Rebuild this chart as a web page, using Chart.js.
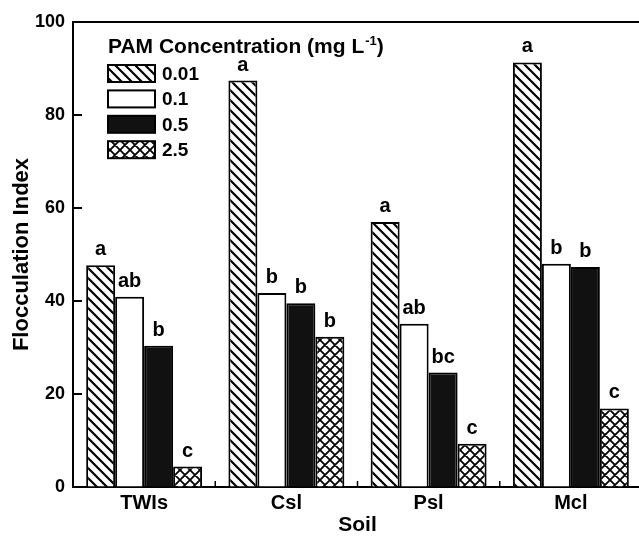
<!DOCTYPE html>
<html>
<head>
<meta charset="utf-8">
<script src="https://cdn.jsdelivr.net/npm/chart.js@4"></script>
<style>
  html, body { margin: 0; padding: 0; background: #fff; overflow: hidden; }
</style>
</head>
<body>
<canvas id="chart" width="646" height="538"></canvas>
<script>
// data
const soils = ['TWIs', 'Csl', 'Psl', 'Mcl'];
const concLabels = ['0.01', '0.1', '0.5', '2.5'];
const fi001 = [47.7, 87.4, 57.0, 91.3];
const fi01 = [40.9, 41.7, 35.1, 48.0];
const fi05 = [30.4, 39.5, 24.6, 47.3];
const fi25 = [4.4, 32.3, 9.3, 16.9];
const letters001 = ['a', 'a', 'a', 'a'];
const letters01 = ['ab', 'b', 'ab', 'b'];
const letters05 = ['b', 'b', 'bc', 'b'];
const letters25 = ['c', 'b', 'c', 'c'];
const yTicks = [0, 20, 40, 60, 80, 100];

const FONT = '"Liberation Sans", Arial, Helvetica, sans-serif';

function makePattern(kind) {
    const size = 10;
    const c = document.createElement('canvas');
    c.width = size;
    c.height = size;
    const g = c.getContext('2d');
    g.fillStyle = '#fff';
    g.fillRect(0, 0, size, size);
    g.strokeStyle = '#000';
    g.lineCap = 'square';
    g.lineWidth = kind === 'cross' ? 1.8 : 2.2;
    g.beginPath();
    // "\" lines
    g.moveTo(-2, -2); g.lineTo(size + 2, size + 2);
    g.moveTo(-2, size - 2); g.lineTo(2, size + 2);
    g.moveTo(size - 2, -2); g.lineTo(size + 2, 2);
    if (kind === 'cross') {
        // "/" lines
        g.moveTo(-2, size + 2); g.lineTo(size + 2, -2);
        g.moveTo(-2, 2); g.lineTo(2, -2);
        g.moveTo(size - 2, size + 2); g.lineTo(size + 2, size - 2);
    }
    g.stroke();
    return g.createPattern(c, 'repeat');
}

const hatch = makePattern('hatch');
const cross = makePattern('cross');

const seriesValues = [fi001, fi01, fi05, fi25];
const seriesLetters = [letters001, letters01, letters05, letters25];
const seriesFill = [hatch, '#ffffff', '#111111', cross];

// small inward tick marks, top frame line
const framePlugin = {
    id: 'frame',
    afterDraw(chart) {
        const ctx = chart.ctx;
        const {left, right, top, bottom} = chart.chartArea;
        const x = chart.scales.x, y = chart.scales.y;
        ctx.save();
        ctx.strokeStyle = '#000';
        ctx.lineWidth = 2;
        ctx.beginPath();
        ctx.moveTo(left - 1, top);
        ctx.lineTo(right + 2, top);
        yTicks.forEach(v => {
            const py = y.getPixelForValue(v);
            ctx.moveTo(left, py);
            ctx.lineTo(left + 9, py);
        });
        ctx.stroke();
        ctx.lineWidth = 1.5;
        ctx.beginPath();
        for (let i = 0; i < soils.length - 1; i++) {
            const px = (x.getPixelForValue(i) + x.getPixelForValue(i + 1)) / 2;
            ctx.moveTo(px, bottom);
            ctx.lineTo(px, bottom - 6);
        }
        ctx.stroke();
        ctx.restore();
    }
};

// significance letters over bars
const lettersPlugin = {
    id: 'letters',
    afterDatasetsDraw(chart) {
        const ctx = chart.ctx;
        ctx.save();
        ctx.fillStyle = '#000';
        ctx.font = 'bold 20px ' + FONT;
        ctx.textAlign = 'center';
        ctx.textBaseline = 'alphabetic';
        chart.data.datasets.forEach((ds, i) => {
            chart.getDatasetMeta(i).data.forEach((el, j) => {
                ctx.fillText(seriesLetters[i][j], el.x, el.y - 10);
            });
        });
        ctx.restore();
    }
};

// legend drawn inside the plot
const legendPlugin = {
    id: 'boxLegend',
    afterDraw(chart) {
        const ctx = chart.ctx;
        const lx = 108, ly = 65, step = 25.4, bw = 47, bh = 17;
        ctx.save();
        ctx.fillStyle = '#000';
        ctx.textBaseline = 'alphabetic';
        ctx.textAlign = 'left';
        ctx.font = 'bold 21px ' + FONT;
        const t1 = 'PAM Concentration (mg L';
        ctx.fillText(t1, lx, 53);
        let tx = lx + ctx.measureText(t1).width;
        ctx.font = 'bold 13px ' + FONT;
        ctx.fillText('-1', tx + 1, 45);
        tx += ctx.measureText('-1').width + 1;
        ctx.font = 'bold 21px ' + FONT;
        ctx.fillText(')', tx, 53);

        chart.data.datasets.forEach((ds, i) => {
            const by = ly + i * step;
            ctx.fillStyle = ds.backgroundColor;
            ctx.fillRect(lx, by, bw, bh);
            ctx.strokeStyle = '#000';
            ctx.lineWidth = 2;
            ctx.strokeRect(lx, by, bw, bh);
            ctx.fillStyle = '#000';
            ctx.font = 'bold 19px ' + FONT;
            ctx.textBaseline = 'middle';
            ctx.fillText(ds.label, lx + bw + 7, by + bh / 2 + 1);
        });
        ctx.restore();
    }
};

new Chart(document.getElementById('chart'), {
    type: 'bar',
    data: {
        labels: soils,
        datasets: seriesValues.map((vals, i) => ({
            label: concLabels[i],
            data: vals,
            backgroundColor: seriesFill[i],
            borderColor: '#000',
            borderWidth: 2,
            borderSkipped: 'bottom',
            categoryPercentage: 0.815,
            barPercentage: 1.0,
        }))
    },
    options: {
        responsive: false,
        animation: false,
        layout: { padding: { top: 22, right: 4, left: 0, bottom: 0 } },
        plugins: {
            legend: { display: false },
            tooltip: { enabled: false }
        },
        scales: {
            x: {
                grid: { display: true, drawOnChartArea: false, drawTicks: false },
                border: { display: true, color: '#000', width: 2 },
                ticks: {
                    color: '#000',
                    padding: 4,
                    font: { family: FONT, size: 20, weight: 'bold' }
                },
                title: {
                    display: true,
                    text: 'Soil',
                    color: '#000',
                    padding: { top: 0, bottom: 0 },
                    font: { family: FONT, size: 21, weight: 'bold' }
                },
                afterFit(s) { s.height = 51; }
            },
            y: {
                min: 0,
                max: 100,
                grid: { display: true, drawOnChartArea: false, drawTicks: false },
                border: { display: true, color: '#000', width: 2 },
                ticks: {
                    stepSize: 20,
                    color: '#000',
                    padding: 8,
                    font: { family: FONT, size: 18, weight: 'bold' }
                },
                title: {
                    display: true,
                    text: 'Flocculation Index',
                    color: '#000',
                    padding: { top: 9, bottom: 0 },
                    font: { family: FONT, size: 22, weight: 'bold' }
                },
                afterFit(s) { s.width = 73; }
            }
        }
    },
    plugins: [framePlugin, lettersPlugin, legendPlugin]
});
</script>
</body>
</html>
